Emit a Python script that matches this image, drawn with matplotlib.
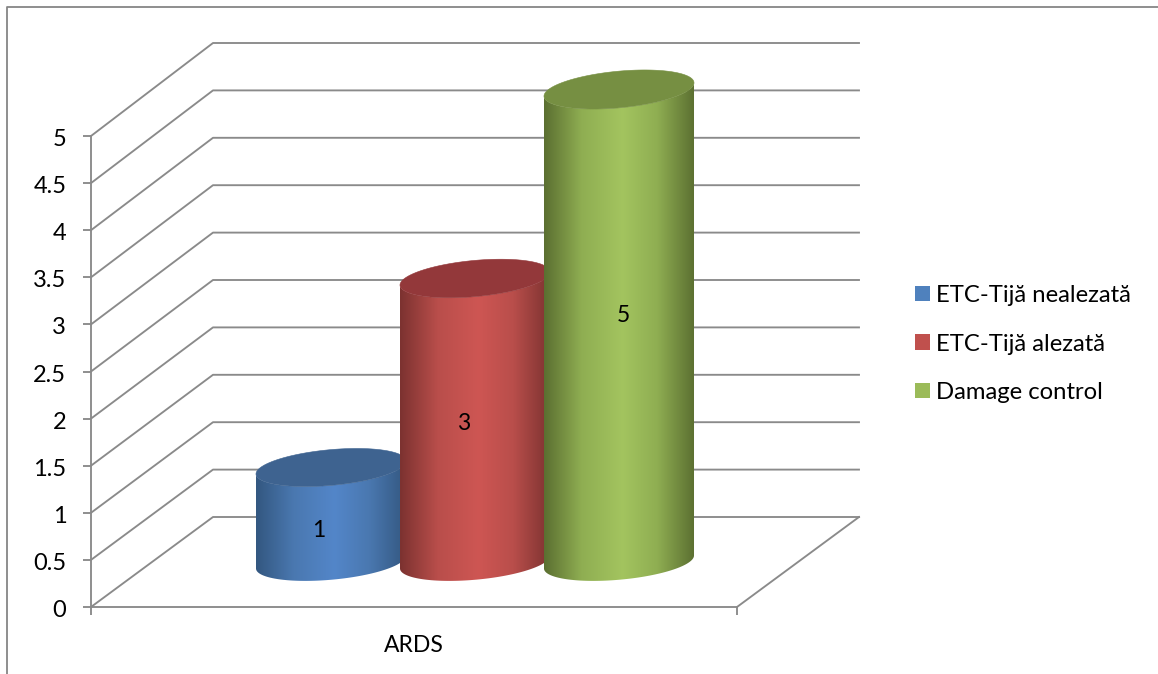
import numpy as np
import matplotlib
matplotlib.use('Agg')
import matplotlib.pyplot as plt
from matplotlib.colors import LinearSegmentedColormap
from matplotlib.lines import Line2D
from matplotlib.patches import Polygon, Rectangle
from matplotlib.transforms import ScaledTranslation

plt.rcParams['font.family'] = ['Lato', 'DejaVu Sans']

series_names = ['ETC-Tijă nealezată', 'ETC-Tijă alezată', 'Damage control']
series_values = [1, 3, 5]
category = 'ARDS'
y_ticks = [0, 0.5, 1, 1.5, 2, 2.5, 3, 3.5, 4, 4.5, 5]
y_labels = ['0', '0.5', '1', '1.5', '2', '2.5', '3', '3.5', '4', '4.5', '5']

edge_colors = ['#335780', '#7c3230', '#5b6f31']
mid_colors = ['#4a78b0', '#b94e4b', '#8fae52']
light_colors = ['#5386c9', '#ce5653', '#a3c45f']
top_colors = ['#3e6390', '#93383a', '#768f42']
legend_colors = ['#4f81bd', '#c0504d', '#9bbb59']

GRID = '#8a8a8a'
W, H = 1158, 674

# the front plane of the box is the axes, depth runs up and to the right
DEPTH_X = 122 / 646
DEPTH_Y = 90 / 94.2
BACK_STRETCH = 474 / 471
BAR_STEP = 0.2229
BAR_RADIUS = 70.5 / 646
DEPTH_RADIUS = 0.21


def project(x, v, d):
    return x + d * DEPTH_X, v * (1 + (BACK_STRETCH - 1) * d) + d * DEPTH_Y


def ellipse(cx, v, t):
    d = 0.5 + DEPTH_RADIUS * np.sin(t)
    return project(cx + BAR_RADIUS * np.cos(t), v, d)


def draw_cylinder(ax, cx, value, i):
    # tangent points of the tilted ellipse on the left and right side
    tilt = np.arctan2(DEPTH_RADIUS * DEPTH_X, BAR_RADIUS)
    front = np.linspace(np.pi + tilt, 2 * np.pi + tilt, 80)
    back = front[::-1]

    bx, by = ellipse(cx, 0, front)
    tx, ty = ellipse(cx, value, back)
    body = Polygon(np.column_stack([np.r_[bx, tx], np.r_[by, ty]]),
                   closed=True, facecolor='none', edgecolor='none', clip_on=False)
    ax.add_patch(body)

    cmap = LinearSegmentedColormap.from_list(
        f'shade{i}',
        [(0, edge_colors[i]), (0.25, mid_colors[i]), (0.52, light_colors[i]),
         (0.75, mid_colors[i]), (1, edge_colors[i])])
    shade = ax.imshow(np.linspace(0, 1, 256)[None, :], cmap=cmap, aspect='auto',
                      extent=[bx.min(), bx.max(), by.min(), ty.max()],
                      interpolation='bilinear', zorder=3 + i)
    # the cylinders stick out above the front plane, so only the body outline clips them
    shade.set_clip_box(fig.bbox)
    shade.set_clip_path(body)

    t = np.linspace(0, 2 * np.pi, 160)
    ex, ey = ellipse(cx, value, t)
    ax.add_patch(Polygon(np.column_stack([ex, ey]), closed=True, facecolor=top_colors[i],
                         edgecolor=top_colors[i], lw=0.4, zorder=3 + i + 0.5, clip_on=False))


fig = plt.figure(figsize=(W / 100, H / 100), dpi=100, facecolor='white')
ax = fig.add_axes([91 / W, 1 - 607 / H, 646 / W, 471 / H])
ax.patch.set_alpha(0)

# walls: gridlines across the back, and diagonals down the side wall
for v in y_ticks:
    x0, y0 = project(0, v, 0)
    x1, y1 = project(0, v, 1)
    x2, y2 = project(1, v, 1)
    ax.add_line(Line2D([x0, x1, x2], [y0, y1, y2], color=GRID, lw=1.35, clip_on=False, zorder=1))

x0, y0 = project(1, 0, 0)
x1, y1 = project(1, 0, 1)
ax.add_line(Line2D([x0, x1], [y0, y1], color=GRID, lw=1.35, clip_on=False, zorder=1))

for i, value in enumerate(series_values):
    cx = 0.5 + (i - 1) * BAR_STEP
    draw_cylinder(ax, cx, value, i)

# value labels sit off centre on the cylinders
label_shift = [(-8.5, -11), (-8.5, -2), (3.5, 7.5)]
for i, value in enumerate(series_values):
    cx, mid = project(0.5 + (i - 1) * BAR_STEP, value / 2, 0.5)
    ax.annotate(str(value), (cx, mid), xytext=label_shift[i], textcoords='offset points',
                ha='center', va='center', fontsize=16.5, color='black', zorder=10)

ax.set_xlim(0, 1)
ax.set_ylim(0, 5)
ax.set_yticks(y_ticks)
ax.set_yticklabels(y_labels, fontsize=17)
ax.set_xticks([0, 1])
ax.set_xticklabels(['', ''])
ax.set_xticks([0.5], labels=[category], minor=True, fontsize=16.5)
ax.tick_params(axis='x', which='minor', length=0, pad=20)
ax.tick_params(axis='both', which='major', color=GRID, width=1.35, length=5.8)
ax.tick_params(axis='y', pad=12)
for side in ['top', 'right']:
    ax.spines[side].set_visible(False)
for side in ['left', 'bottom']:
    ax.spines[side].set_color(GRID)
    ax.spines[side].set_linewidth(1.35)

# nudge the tick numbers down so they centre on their ticks
nudge = ScaledTranslation(0, -1.5 / 100, fig.dpi_scale_trans)
for tick_label in ax.get_yticklabels():
    tick_label.set_transform(tick_label.get_transform() + nudge)

handles = [Rectangle((0, 0), 1, 1, facecolor=c, edgecolor='none') for c in legend_colors]
fig.legend(handles, series_names, loc='center left', bbox_to_anchor=(915 / W, 1 - 344 / H),
           frameon=False, fontsize=17.2, handlelength=0.635, handleheight=0.635,
           handletextpad=0.25, labelspacing=1.15, borderpad=0, borderaxespad=0)

# outer chart border, open on the right and at the bottom
fig.add_artist(Line2D([7 / W, 7 / W, 1], [0, 1 - 7 / H, 1 - 7 / H], color='#868686', lw=1.3,
                      transform=fig.transFigure))

fig.savefig('out.png', dpi=100)
